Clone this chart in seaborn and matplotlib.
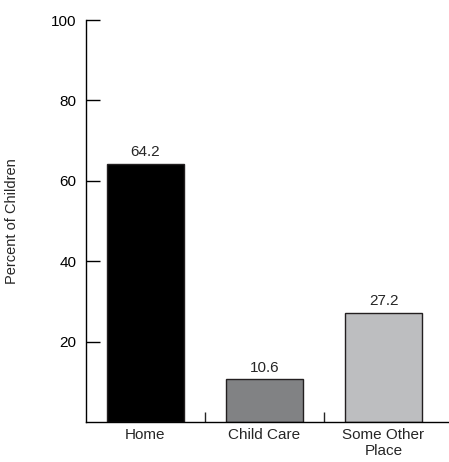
import numpy as np
import pandas as pd
import matplotlib
matplotlib.use('Agg')
import matplotlib.pyplot as plt
import seaborn as sns

places = ['Home', 'Child Care', 'Some Other\nPlace']
percent = [64.2, 10.6, 27.2]
bar_colors = ['#000000', '#808285', '#bcbec0']

df = pd.DataFrame({'place': places, 'percent': percent})

sns.set_style('ticks')
plt.rcParams['font.family'] = ['Liberation Sans', 'DejaVu Sans']

fig = plt.figure(figsize=(4.49, 4.62), dpi=100)
ax = fig.add_axes([0.1915, 0.0866, 0.8085, 0.8701])

sns.barplot(data=df, x='place', y='percent', hue='place', palette=bar_colors,
            width=0.65, edgecolor='#231f20', linewidth=1, legend=False, ax=ax)

for i, v in enumerate(percent):
    ax.text(i, v + 1.2, f'{v:.1f}', ha='center', va='bottom', fontsize=11)

ax.set_xlim(-0.5, 2.55)
ax.set_ylim(0, 100)
ax.set_yticks([20, 40, 60, 80, 100])
ax.set_xlabel('')
ax.set_ylabel('Percent of Children', fontsize=10.5, labelpad=23)

ax.tick_params(axis='y', direction='in', length=10, width=1, labelsize=11, pad=7, colors='black')
ax.tick_params(axis='x', length=0, labelsize=11, pad=4)
ax.set_xticks([0.5, 1.5], minor=True)
ax.tick_params(axis='x', which='minor', direction='in', length=7, width=1)

sns.despine(ax=ax)
for s in ['left', 'bottom']:
    ax.spines[s].set_linewidth(1)
    ax.spines[s].set_color('black')

fig.savefig('out.png', dpi=100)
